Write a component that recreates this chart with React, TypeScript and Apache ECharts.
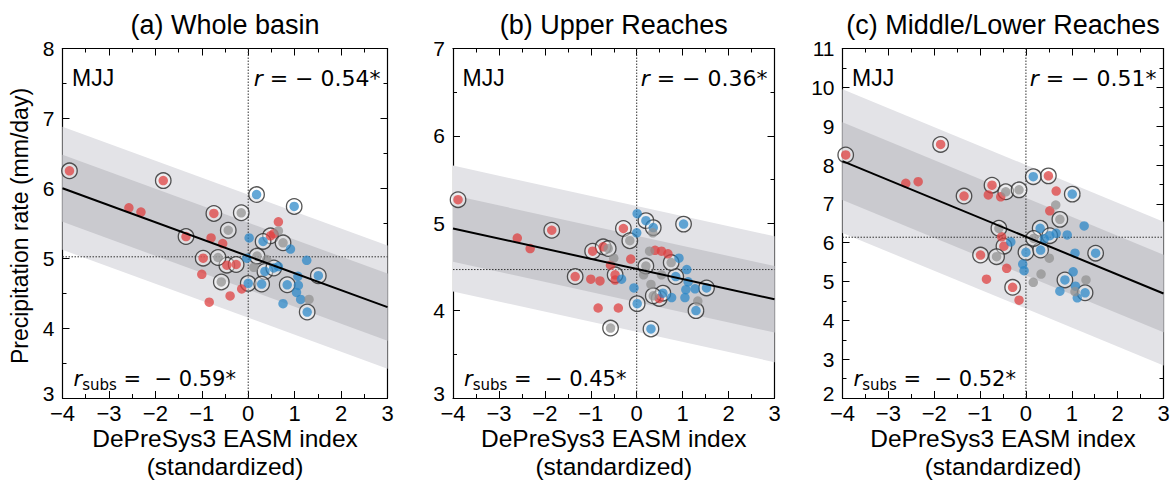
import React, { useEffect, useRef } from "react";
import * as echarts from "echarts";

const TEXT_FONT = "'Liberation Sans', Arial, Helvetica, sans-serif";
const MATH_FONT = "'DejaVu Sans', sans-serif";

// ---------- data ----------
const PANEL_TITLES = ["(a) Whole basin", "(b) Upper Reaches", "(c) Middle/Lower Reaches"];
const SEASON = "MJJ";
const X_LABEL = "DePreSys3 EASM index\n(standardized)";
const Y_LABEL = "Precipitation rate (mm/day)";
const X_MIN = -4;
const X_MAX = 3;
const Y_MIN = [3, 3, 2];
const Y_MAX = [8, 7, 11];
const CLIM_MEAN = [5.02, 4.47, 6.14];
const FIT_AT_XMIN = [6.0, 4.94, 8.1];
const FIT_AT_XMAX = [4.3, 4.13, 4.69];
const BAND_INNER = [0.48, 0.38, 1.0];
const BAND_OUTER = [0.88, 0.72, 1.85];
const R_ALL = ["0.54", "0.36", "0.51"];
const R_SUBS = ["0.59", "0.45", "0.52"];

// [EASM index, precipitation, circled]
const A_RED = [
  [-3.85, 6.25, 1], [-1.83, 6.11, 1], [-2.57, 5.72, 0], [-2.31, 5.66, 0], [-1.34, 5.31, 1],
  [-0.74, 5.64, 1], [-0.8, 5.29, 0], [-0.55, 5.21, 0], [-0.97, 5.0, 1], [-0.46, 4.9, 1],
  [-0.26, 4.91, 1], [-1.0, 4.77, 0], [-0.84, 4.37, 0], [-0.39, 4.46, 0], [-0.14, 4.56, 0],
  [0.48, 5.32, 1], [0.55, 5.35, 0], [0.65, 5.52, 0],
];
const A_BLUE = [
  [0.18, 5.91, 1], [0.99, 5.74, 1], [0.02, 5.29, 0], [-0.03, 5.0, 0], [0.0, 4.64, 1],
  [0.91, 5.13, 0], [1.26, 4.97, 0], [1.51, 4.75, 1], [0.36, 4.81, 1], [0.55, 4.86, 1],
  [0.29, 4.63, 1], [0.84, 4.62, 1], [1.07, 4.74, 0], [1.08, 4.61, 0], [1.04, 4.51, 0],
  [1.13, 4.41, 0], [0.75, 4.35, 0], [1.27, 4.23, 1], [0.65, 4.88, 0], [0.32, 5.24, 1],
];
const A_GREY = [
  [-0.15, 5.65, 1], [-0.43, 5.4, 1], [-0.65, 5.01, 1], [-0.58, 4.66, 1], [0.19, 5.03, 1],
  [0.12, 4.87, 0], [0.65, 5.39, 0], [0.75, 5.22, 1], [1.31, 4.41, 0], [0.4, 4.98, 0],
];

const B_RED = [
  [-3.89, 5.27, 1], [-1.85, 4.92, 1], [-2.6, 4.83, 0], [-2.32, 4.71, 0], [-1.34, 4.39, 1],
  [-1.0, 4.36, 0], [-0.8, 4.34, 0], [-0.84, 4.03, 0], [-0.4, 4.03, 0], [-0.96, 4.68, 1],
  [-0.73, 4.73, 1], [-0.29, 4.94, 1], [-0.57, 4.52, 0], [-0.13, 4.59, 0], [-0.47, 4.41, 1],
  [-0.47, 4.35, 0], [0.4, 4.69, 0], [0.54, 4.68, 0], [0.68, 4.65, 0], [0.49, 4.14, 1],
];
const B_BLUE = [
  [0.31, 3.79, 1], [0.01, 4.08, 1], [0.01, 5.11, 0], [0.2, 5.03, 1], [0.36, 4.95, 1],
  [1.02, 4.99, 1], [0.0, 4.89, 0], [-0.33, 4.36, 0], [0.92, 4.6, 0], [0.85, 4.39, 1],
  [1.09, 4.47, 0], [1.12, 4.33, 0], [1.27, 4.25, 0], [1.52, 4.26, 1], [1.07, 4.24, 0],
  [1.05, 4.15, 0], [1.29, 4.0, 1], [-0.06, 4.26, 0], [0.57, 4.2, 1], [0.76, 4.15, 0],
];
const B_GREY = [
  [-0.57, 3.8, 1], [-0.62, 4.71, 1], [-0.15, 4.8, 1], [0.35, 4.89, 0], [0.2, 4.51, 1],
  [0.15, 4.41, 0], [0.28, 4.68, 0], [0.75, 4.55, 1], [1.33, 4.11, 0], [0.31, 4.3, 0],
  [0.36, 4.17, 1], [0.54, 4.41, 0], [-0.5, 4.6, 0],
];

const C_RED = [
  [-3.93, 8.26, 1], [-1.86, 8.53, 1], [-2.62, 7.53, 0], [-2.35, 7.57, 0], [-1.35, 7.2, 1],
  [-0.74, 7.48, 1], [-0.82, 7.23, 0], [-0.55, 7.18, 0], [0.49, 7.72, 1], [0.66, 7.33, 0],
  [0.52, 6.82, 0], [-0.53, 6.15, 0], [-0.48, 5.91, 1], [-0.99, 5.68, 1], [-0.42, 5.34, 0],
  [-0.86, 5.06, 0], [-0.29, 4.85, 1], [-0.15, 4.52, 0],
];
const C_BLUE = [
  [0.16, 7.7, 1], [1.01, 7.25, 1], [-0.33, 6.02, 0], [0.0, 5.75, 1], [-0.07, 5.45, 0],
  [-0.04, 5.28, 0], [0.32, 5.81, 1], [0.31, 6.37, 1], [0.52, 6.18, 1], [0.4, 6.1, 0],
  [0.66, 6.24, 0], [0.9, 6.2, 0], [1.27, 6.43, 0], [1.52, 5.73, 1], [1.07, 5.73, 0],
  [1.03, 5.25, 0], [0.85, 5.04, 1], [0.74, 4.75, 0], [1.08, 4.88, 0], [1.29, 4.71, 1],
  [1.12, 4.58, 0],
];
const C_GREY = [
  [-0.44, 7.31, 1], [-0.15, 7.36, 1], [0.65, 6.97, 0], [0.74, 6.6, 1], [-0.59, 6.37, 1],
  [-0.64, 5.64, 1], [0.16, 4.98, 0], [0.33, 5.19, 0], [0.51, 5.6, 0], [0.17, 6.11, 1],
  [1.31, 5.04, 0], [1.07, 4.74, 0],
];

const PANEL_POINTS = [
  [A_RED, A_BLUE, A_GREY],
  [B_RED, B_BLUE, B_GREY],
  [C_RED, C_BLUE, C_GREY],
];

// ---------- styling / layout ----------
const DOT_COLORS = ["rgba(222,62,62,0.92)", "rgba(40,134,200,0.9)", "rgba(145,145,145,0.92)"];
const BAND_OUTER_COLOR = "#e3e3e7";
const BAND_INNER_COLOR = "#cacacf";
const GRID_LEFT = [62.5, 453, 842.5];
const GRID_WIDTH = [325, 321.5, 321];
const GRID_TOP = 48.5;
const GRID_HEIGHT = 349.5;

const minusFmt = (v: number) => (v < 0 ? "\u2212" + Math.abs(v) : String(v));

function axisBase(showLabel: boolean, margin: number, lineHeight: number, fontSize: number) {
  return {
    axisLine: { show: true, onZero: false, lineStyle: { color: "#000", width: 1.2 } },
    axisTick: { show: true, inside: true, length: 7, lineStyle: { color: "#000", width: 1 } },
    minorTick: { show: true, splitNumber: 2, length: 4, lineStyle: { color: "#000", width: 1 } },
    splitLine: { show: false },
    minorSplitLine: { show: false },
    axisLabel: {
      show: showLabel,
      formatter: minusFmt,
      color: "#000",
      fontSize,
      lineHeight,
      fontFamily: TEXT_FONT,
      margin,
    },
  };
}

function buildOption() {
  const grid: any[] = [];
  const xAxis: any[] = [];
  const yAxis: any[] = [];
  const series: any[] = [];
  const graphic: any[] = [];

  for (let p = 0; p < 3; p++) {
    grid.push({ left: GRID_LEFT[p], top: GRID_TOP, width: GRID_WIDTH[p], height: GRID_HEIGHT });
  }
  for (let p = 0; p < 3; p++) {
    xAxis.push({ type: "value", gridIndex: p, min: X_MIN, max: X_MAX, interval: 1, position: "bottom", ...axisBase(true, 9, 12, 22) });
    const yb: any = { type: "value", gridIndex: p, min: Y_MIN[p], max: Y_MAX[p], interval: 1, position: "left", ...axisBase(true, 8, 10, 21) };
    yb.axisLabel.verticalAlignMinLabel = "bottom";
    yAxis.push(yb);
  }
  for (let p = 0; p < 3; p++) {
    xAxis.push({ type: "value", gridIndex: p, min: X_MIN, max: X_MAX, interval: 1, position: "top", ...axisBase(false, 5, 12, 22) });
    yAxis.push({ type: "value", gridIndex: p, min: Y_MIN[p], max: Y_MAX[p], interval: 1, position: "right", ...axisBase(false, 7, 10, 21) });
  }

  for (let p = 0; p < 3; p++) {
    const bands: [number, string, number][] = [
      [BAND_OUTER[p], BAND_OUTER_COLOR, 1],
      [BAND_INNER[p], BAND_INNER_COLOR, 2],
    ];
    bands.forEach(([w, color, z]) => {
      series.push({
        type: "custom",
        xAxisIndex: p,
        yAxisIndex: p,
        z,
        silent: true,
        encode: { x: 0, y: 1 },
        data: [[X_MIN, FIT_AT_XMIN[p] - w, FIT_AT_XMIN[p] + w, X_MAX, FIT_AT_XMAX[p] - w, FIT_AT_XMAX[p] + w]],
        renderItem: (_params: any, api: any) => {
          const a = api.coord([api.value(0), api.value(2)]);
          const b = api.coord([api.value(3), api.value(5)]);
          const c = api.coord([api.value(3), api.value(4)]);
          const d = api.coord([api.value(0), api.value(1)]);
          return { type: "polygon", shape: { points: [a, b, c, d] }, style: { fill: color } };
        },
      });
    });

    // reference dotted lines
    series.push({
      type: "line",
      xAxisIndex: p,
      yAxisIndex: p,
      z: 3,
      silent: true,
      symbol: "none",
      data: [[0, Y_MIN[p]], [0, Y_MAX[p]]],
      lineStyle: { color: "#333", width: 1, type: [1.5, 1.5] },
    });
    series.push({
      type: "line",
      xAxisIndex: p,
      yAxisIndex: p,
      z: 3,
      silent: true,
      symbol: "none",
      data: [[X_MIN, CLIM_MEAN[p]], [X_MAX, CLIM_MEAN[p]]],
      lineStyle: { color: "#333", width: 1, type: [1.5, 1.5] },
    });

    const groups = PANEL_POINTS[p];
    const ringed = groups.flatMap((g) => g.filter((d) => d[2] === 1).map((d) => [d[0], d[1]]));
    series.push({
      type: "scatter",
      xAxisIndex: p,
      yAxisIndex: p,
      z: 4,
      silent: true,
      symbolSize: 15.5,
      data: ringed,
      itemStyle: { color: "rgba(255,255,255,0.5)", borderColor: "#2b2b2b", borderWidth: 1.3 },
    });
    groups.forEach((g, gi) => {
      series.push({
        type: "scatter",
        xAxisIndex: p,
        yAxisIndex: p,
        z: 5,
        silent: true,
        symbolSize: 9.5,
        data: g.map((d) => [d[0], d[1]]),
        itemStyle: { color: DOT_COLORS[gi] },
      });
    });

    series.push({
      type: "line",
      xAxisIndex: p,
      yAxisIndex: p,
      z: 6,
      silent: true,
      symbol: "none",
      data: [[X_MIN, FIT_AT_XMIN[p]], [X_MAX, FIT_AT_XMAX[p]]],
      lineStyle: { color: "#000", width: 2 },
    });

    const left = GRID_LEFT[p];
    const right = GRID_LEFT[p] + GRID_WIDTH[p];
    const center = left + GRID_WIDTH[p] / 2;

    graphic.push({
      type: "text",
      x: center,
      y: 25,
      silent: true,
      style: { text: PANEL_TITLES[p], fontSize: 27, fontFamily: TEXT_FONT, fill: "#000", align: "center", verticalAlign: "middle" },
    });
    graphic.push({
      type: "text",
      x: center,
      y: 452,
      silent: true,
      style: { text: X_LABEL, fontSize: 24.5, lineHeight: 28, fontFamily: TEXT_FONT, fill: "#000", align: "center", verticalAlign: "middle" },
    });
    graphic.push({
      type: "text",
      x: left + 9.5,
      y: 78,
      silent: true,
      style: { text: SEASON, fontSize: 23, fontFamily: TEXT_FONT, fill: "#000", align: "left", verticalAlign: "middle" },
    });
    graphic.push({
      type: "text",
      x: right - 7,
      y: 78,
      silent: true,
      style: {
        text: "{i|r}{n| = \u2212 " + R_ALL[p] + "*}",
        fontSize: 22,
        fontFamily: MATH_FONT,
        fill: "#000",
        align: "right",
        verticalAlign: "middle",
        rich: {
          i: { fontStyle: "italic", fontSize: 22, fontFamily: MATH_FONT, lineHeight: 26 },
          n: { fontSize: 22, fontFamily: MATH_FONT, lineHeight: 26 },
        },
      },
    });
    graphic.push({
      type: "text",
      x: left + 11,
      y: 379,
      silent: true,
      style: {
        text: "{i|r}{s|subs}{n| =  \u2212 " + R_SUBS[p] + "*}",
        fontSize: 21,
        fontFamily: MATH_FONT,
        fill: "#000",
        align: "left",
        verticalAlign: "middle",
        rich: {
          i: { fontStyle: "italic", fontSize: 21, fontFamily: MATH_FONT, lineHeight: 26 },
          s: { fontSize: 15, fontFamily: MATH_FONT, lineHeight: 15, verticalAlign: "bottom" },
          n: { fontSize: 21, fontFamily: MATH_FONT, lineHeight: 26 },
        },
      },
    });
  }

  graphic.push({
    type: "text",
    x: 20,
    y: 226,
    rotation: Math.PI / 2,
    silent: true,
    style: { text: Y_LABEL, fontSize: 23, fontFamily: TEXT_FONT, fill: "#000", align: "center", verticalAlign: "middle" },
  });

  return {
    animation: false,
    backgroundColor: "#fff",
    grid,
    xAxis,
    yAxis,
    series,
    graphic,
  };
}

export default function App() {
  const ref = useRef<HTMLDivElement>(null);
  useEffect(() => {
    if (!ref.current) return;
    const chart = echarts.init(ref.current, undefined, { renderer: "svg" });
    chart.setOption(buildOption() as any);
    return () => chart.dispose();
  }, []);
  return (
    <div
      ref={ref}
      style={{ position: "absolute", left: 0, top: 0, width: 1176, height: 485, background: "#fff" }}
    />
  );
}
